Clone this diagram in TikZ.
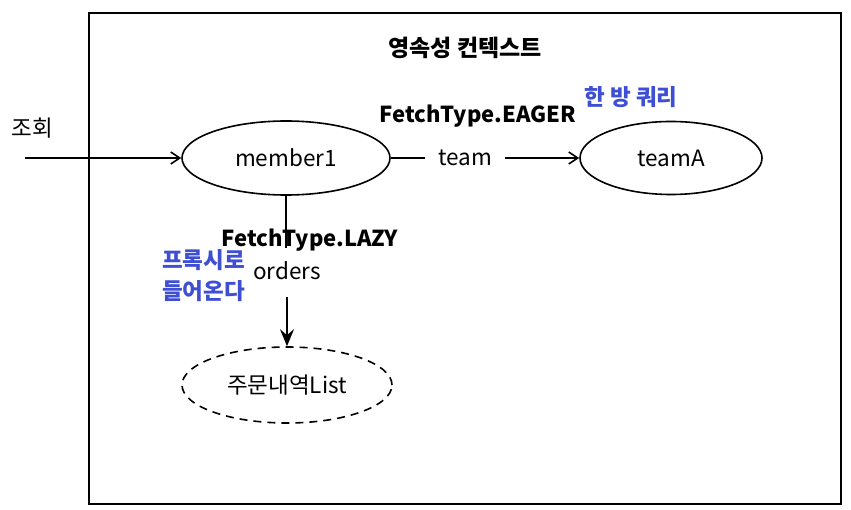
\documentclass[tikz,border=0pt]{standalone}
\usepackage{fontspec}
\setmainfont{Noto Sans CJK KR}
\usetikzlibrary{arrows.meta,shapes.geometric}
\definecolor{kblue}{HTML}{3F4FD3}
\begin{document}
\begin{tikzpicture}[x=1pt,y=-1pt,
  every node/.style={font=\fontsize{22.5}{25}\selectfont},
  ent/.style={draw,ellipse,line width=1.6pt,minimum width=208pt,minimum height=74pt,inner sep=0pt},
  conn/.style={line width=1.6pt},
  arr/.style={conn,-{Straight Barb[length=9pt,width=12pt,line width=1.6pt]}},
  bold/.style={font=\fontsize{22}{25}\selectfont\bfseries},
  note/.style={text=kblue,font=\fontsize{22.5}{31}\selectfont\bfseries}]
\useasboundingbox (0,0) rectangle (851,510);
\node[draw,line width=1.6pt,minimum width=752pt,minimum height=491pt,anchor=north west,inner sep=0] (ctx) at (88,12) {};
\node[bold,font=\fontsize{23}{25}\selectfont\bfseries] (title) at (465,48) {영속성 컨텍스트};
\node (query) at (32,128) {조회};
\coordinate (start) at (25,158);
\node[ent] (member1) at (286,158) {member1};
\node[ent,minimum width=182pt,minimum height=73pt] (teamA) at (671,158) {teamA};
\node[ent,dashed,dash pattern=on 8pt off 6pt,minimum width=210pt,minimum height=76pt] (list) at (287,385) {주문내역List};
\node[inner sep=0pt,minimum width=80pt] (team) at (465,158) {team};
\node[bold] (eager) at (478,116) {FetchType.EAGER};
\node[note] (one) at (631,97) {한 방 쿼리};
\node[inner sep=1pt] (orders) at (287,271) {orders};
\node[bold] (lazy) at (310,240) {FetchType.LAZY};
\node[note,align=left,anchor=north west,inner sep=0pt] (proxy) at (162,249) {프록시로\\들어온다};
\draw[conn] (member1.south) -- ([yshift=-8pt]lazy.center -| member1.south);
\draw[arr] (start) -- (member1.west);
\draw[conn] (member1.east) -- (team.west);
\draw[arr] (team.east) -- (teamA.west);
\draw[conn,-{Stealth[length=17pt,width=14pt,inset=6pt]}] ([yshift=-16pt]orders.south) -- (list.north);
\end{tikzpicture}
\end{document}
